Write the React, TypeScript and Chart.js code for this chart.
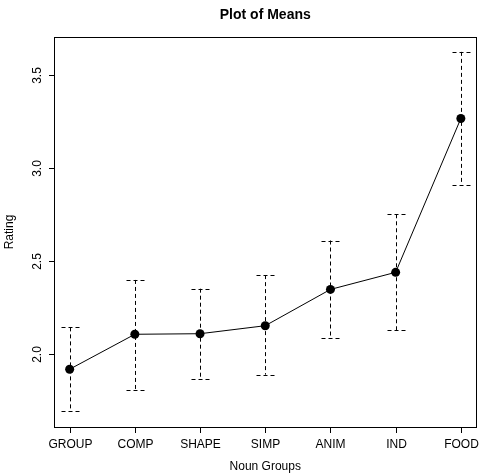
import React, { useEffect, useRef } from "react";
import { Chart, registerables } from "chart.js";

Chart.register(...registerables);

const categories = ["GROUP", "COMP", "SHAPE", "SIMP", "ANIM", "IND", "FOOD"];
const means = [1.918, 2.106, 2.109, 2.152, 2.347, 2.439, 3.266];
const upper = [2.143, 2.398, 2.351, 2.424, 2.61, 2.751, 3.624];
const lower = [1.694, 1.806, 1.866, 1.889, 2.086, 2.129, 2.911];
const yTickValues = [2.0, 2.5, 3.0, 3.5];
const yTickLabels = ["2.0", "2.5", "3.0", "3.5"];
const title = "Plot of Means";
const xTitle = "Noun Groups";
const yTitle = "Rating";

const FONT = "'Liberation Sans', Arial, Helvetica, sans-serif";

const drawPlugin = {
  id: "rbase",
  beforeDatasetsDraw(chart: any) {
    const { ctx, scales } = chart;
    const xs = scales.x;
    const ys = scales.y;
    ctx.save();
    ctx.strokeStyle = "#000";
    ctx.lineWidth = 1;
    ctx.setLineDash([4, 3]);
    categories.forEach((_, i) => {
      const px = Math.round(xs.getPixelForValue(i + 1)) + 0.5;
      const pu = ys.getPixelForValue(upper[i]);
      const pl = ys.getPixelForValue(lower[i]);
      ctx.beginPath();
      ctx.moveTo(px, pu);
      ctx.lineTo(px, pl);
      ctx.stroke();
      [pu, pl].forEach((py) => {
        const yy = Math.round(py) + 0.5;
        ctx.beginPath();
        ctx.moveTo(px - 9, yy);
        ctx.lineTo(px + 9, yy);
        ctx.stroke();
      });
    });
    ctx.restore();
  },
  afterDraw(chart: any) {
    const { ctx, scales, chartArea } = chart;
    const xs = scales.x;
    const ys = scales.y;
    const { left, right, top, bottom } = chartArea;
    ctx.save();
    ctx.strokeStyle = "#000";
    ctx.fillStyle = "#000";
    ctx.lineWidth = 1;
    ctx.setLineDash([]);
    // box
    ctx.strokeRect(Math.round(left) + 0.5, Math.round(top) + 0.5, Math.round(right - left) - 1, Math.round(bottom - top));
    // x ticks and labels
    ctx.font = `12px ${FONT}`;
    ctx.textAlign = "center";
    ctx.textBaseline = "alphabetic";
    categories.forEach((c, i) => {
      const px = Math.round(xs.getPixelForValue(i + 1)) + 0.5;
      ctx.beginPath();
      ctx.moveTo(px, bottom);
      ctx.lineTo(px, bottom + 6);
      ctx.stroke();
      ctx.fillText(c, px, bottom + 21);
    });
    // y ticks and labels
    yTickValues.forEach((v, i) => {
      const py = Math.round(ys.getPixelForValue(v)) + 0.5;
      ctx.beginPath();
      ctx.moveTo(left - 5, py);
      ctx.lineTo(left + 0.5, py);
      ctx.stroke();
      ctx.save();
      ctx.translate(left - 13.5, py);
      ctx.rotate(-Math.PI / 2);
      ctx.textAlign = "center";
      ctx.fillText(yTickLabels[i], 0, 0);
      ctx.restore();
    });
    // axis titles
    ctx.fillText(xTitle, (left + right) / 2, bottom + 43);
    ctx.save();
    ctx.translate(13, (top + bottom) / 2);
    ctx.rotate(-Math.PI / 2);
    ctx.textAlign = "center";
    ctx.fillText(yTitle, 0, 0);
    ctx.restore();
    // main title
    ctx.font = `bold 14px ${FONT}`;
    ctx.fillText(title, (left + right) / 2, 18.5);
    ctx.restore();
  },
};

export default function App() {
  const ref = useRef<HTMLCanvasElement | null>(null);
  useEffect(() => {
    if (!ref.current) return;
    const chart = new Chart(ref.current, {
      type: "line",
      data: {
        datasets: [
          {
            data: means.map((m, i) => ({ x: i + 1, y: m })),
            borderColor: "#000",
            borderWidth: 1,
            pointRadius: 4.5,
            pointBackgroundColor: "#000",
            pointBorderColor: "#000",
            pointBorderWidth: 0,
            fill: false,
            tension: 0,
          },
        ],
      },
      options: {
        animation: false,
        responsive: true,
        maintainAspectRatio: false,
        layout: { padding: { top: 37, right: 4, left: 0, bottom: 0 } },
        plugins: { legend: { display: false }, tooltip: { enabled: false }, title: { display: false } },
        events: [],
        scales: {
          x: {
            type: "linear",
            min: 0.76,
            max: 7.24,
            ticks: { display: false },
            grid: { display: false },
            border: { display: false },
            afterFit: (s: any) => {
              s.height = 46;
            },
          },
          y: {
            type: "linear",
            min: 1.6075,
            max: 3.704,
            ticks: { display: false },
            grid: { display: false },
            border: { display: false },
            afterFit: (s: any) => {
              s.width = 54;
            },
          },
        },
      },
      plugins: [drawPlugin],
    });
    return () => chart.destroy();
  }, []);
  return (
    <div style={{ position: "absolute", left: 0, top: 0, width: 481, height: 473, background: "#fff" }}>
      <canvas ref={ref} />
    </div>
  );
}
